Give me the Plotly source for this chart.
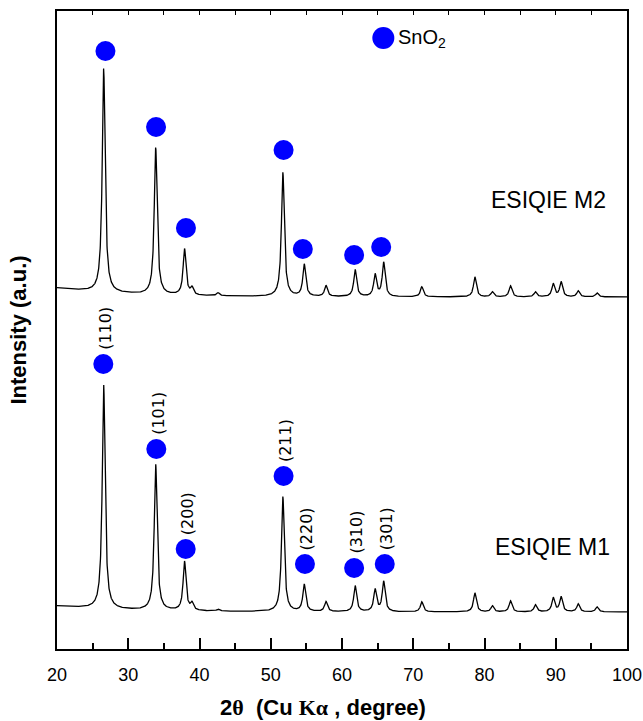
import numpy as np
import plotly.graph_objects as go

# ---- data (2theta in degrees, intensity in arbitrary units) ----
peak_pos = [26.55, 33.85, 37.9, 38.95, 42.6, 51.7, 54.7, 57.75, 61.85, 64.65,
            65.85, 71.2, 78.65, 81.1, 83.65, 87.15, 89.65, 90.75, 93.15, 95.8]
m1_heights = [224, 146, 49, 7, 2, 115, 27, 10, 26, 22,
              30, 10, 19, 6, 11, 7, 14, 15, 8, 5]
m2_heights = [224, 147, 46, 7, 3, 124, 32, 11, 27, 22,
              34, 10, 20, 5, 11, 5, 13, 15, 6, 4]
peak_hwhm = 0.24

m1_base_start, m1_base_end = 43, 37
m2_base_start, m2_base_end = 361, 352
base_decay = 10.0

m1_marker_x = [26.5, 33.94, 38.06, 51.8, 54.8, 61.7, 66.0]
m1_marker_y = [285, 200, 100, 173, 85, 81, 85]
hkl_labels = ["(110)", "(101)", "(200)", "(211)", "(220)", "(310)", "(301)"]

m2_marker_x = [26.8, 33.9, 38.1, 51.8, 54.5, 61.7, 65.5]
m2_marker_y = [598, 522, 421, 499, 400, 394, 402]

legend_x, legend_y = [65.8], [611]

x_ticks = [20, 30, 40, 50, 60, 70, 80, 90, 100]

# ---- build patterns ----
tt = np.linspace(20, 100, 4001)


def pattern(heights, b0, b1):
    base = b1 + (b0 - b1) * np.exp(-(tt - 20) / base_decay)
    y = base.copy()
    for p, h in zip(peak_pos, heights):
        y += h * peak_hwhm**2 / ((tt - p) ** 2 + peak_hwhm**2)
    return y


y_m1 = pattern(m1_heights, m1_base_start, m1_base_end)
y_m2 = pattern(m2_heights, m2_base_start, m2_base_end)

BLUE = "#0000ff"
fig = go.Figure()
fig.add_trace(go.Scatter(x=tt, y=y_m1, mode="lines",
                         line=dict(color="black", width=1.3), showlegend=False))
fig.add_trace(go.Scatter(x=tt, y=y_m2, mode="lines",
                         line=dict(color="black", width=1.3), showlegend=False))
fig.add_trace(go.Scatter(x=m1_marker_x, y=m1_marker_y, mode="markers",
                         marker=dict(color=BLUE, size=20, line=dict(width=0)),
                         showlegend=False))
fig.add_trace(go.Scatter(x=m2_marker_x, y=m2_marker_y, mode="markers",
                         marker=dict(color=BLUE, size=20, line=dict(width=0)),
                         showlegend=False))
fig.add_trace(go.Scatter(x=legend_x, y=legend_y, mode="markers",
                         marker=dict(color=BLUE, size=22, line=dict(width=0)),
                         showlegend=False))
# invisible trace so the top tick axis is drawn
fig.add_trace(go.Scatter(x=[20, 100], y=[-10, -10], xaxis="x2", mode="lines",
                         line=dict(width=0), showlegend=False, hoverinfo="skip"))

for xm, ym, lab in zip(m1_marker_x, m1_marker_y, hkl_labels):
    fig.add_annotation(x=xm, y=ym, text=lab, textangle=-90, showarrow=False,
                       xanchor="center", yanchor="bottom", yshift=12, xshift=2,
                       font=dict(family="DejaVu Sans", size=16, color="black"))

fig.add_annotation(x=legend_x[0], y=legend_y[0], text="SnO<sub>2</sub>", showarrow=False,
                   xanchor="left", yanchor="middle", xshift=13,
                   font=dict(family="Liberation Sans", size=20, color="black"))
fig.add_annotation(x=89.0, y=449, text="ESIQIE M2", showarrow=False,
                   xanchor="center", yanchor="middle",
                   font=dict(family="Liberation Sans", size=23, color="black"))
fig.add_annotation(x=89.5, y=102, text="ESIQIE M1", showarrow=False,
                   xanchor="center", yanchor="middle",
                   font=dict(family="Liberation Sans", size=23, color="black"))

# x-axis title (placed as paper annotation to match the reference's offset)
fig.add_annotation(xref="paper", yref="paper", x=0.467, y=0, yshift=-58,
                   xanchor="center", yanchor="middle", showarrow=False,
                   text="<b>2<span style='font-family:Liberation Serif'>θ</span>"
                        "  (Cu <span style='font-family:Liberation Serif'>Kα</span>"
                        " , degree)</b>",
                   font=dict(size=22, family="Liberation Sans", color="black"))

fig.update_layout(
    width=643, height=721,
    margin=dict(l=57, r=16, t=11, b=72),
    paper_bgcolor="white", plot_bgcolor="white",
    font=dict(family="Liberation Sans", color="black"),
    xaxis=dict(range=[20, 100], tickvals=x_ticks, ticks="inside", ticklen=11,
               tickwidth=1.5, tickcolor="black", showline=True, linewidth=2,
               linecolor="black", mirror=True, showgrid=False, zeroline=False,
               automargin=False, ticklabelstandoff=8,
               tickfont=dict(size=18, family="Liberation Sans", color="black"),
               minor=dict(dtick=5, tick0=0, ticks="inside", ticklen=6, tickwidth=1.5,
                          tickcolor="black", showgrid=False)),
    xaxis2=dict(range=[20, 100], overlaying="x", side="top", dtick=5, tick0=0,
                ticks="inside", ticklen=4, tickwidth=1, tickcolor="black",
                showticklabels=False, showline=False, showgrid=False, zeroline=False,
                automargin=False),
    yaxis=dict(range=[0, 638], showticklabels=False, ticks="", showline=True,
               linewidth=2, linecolor="black", mirror=True, showgrid=False,
               zeroline=False, automargin=False,
               title=dict(text="<b>Intensity (a.u.)</b>",
                          font=dict(size=22, family="Liberation Sans", color="black"),
                          standoff=22)),
)

fig.write_html("out.html")
